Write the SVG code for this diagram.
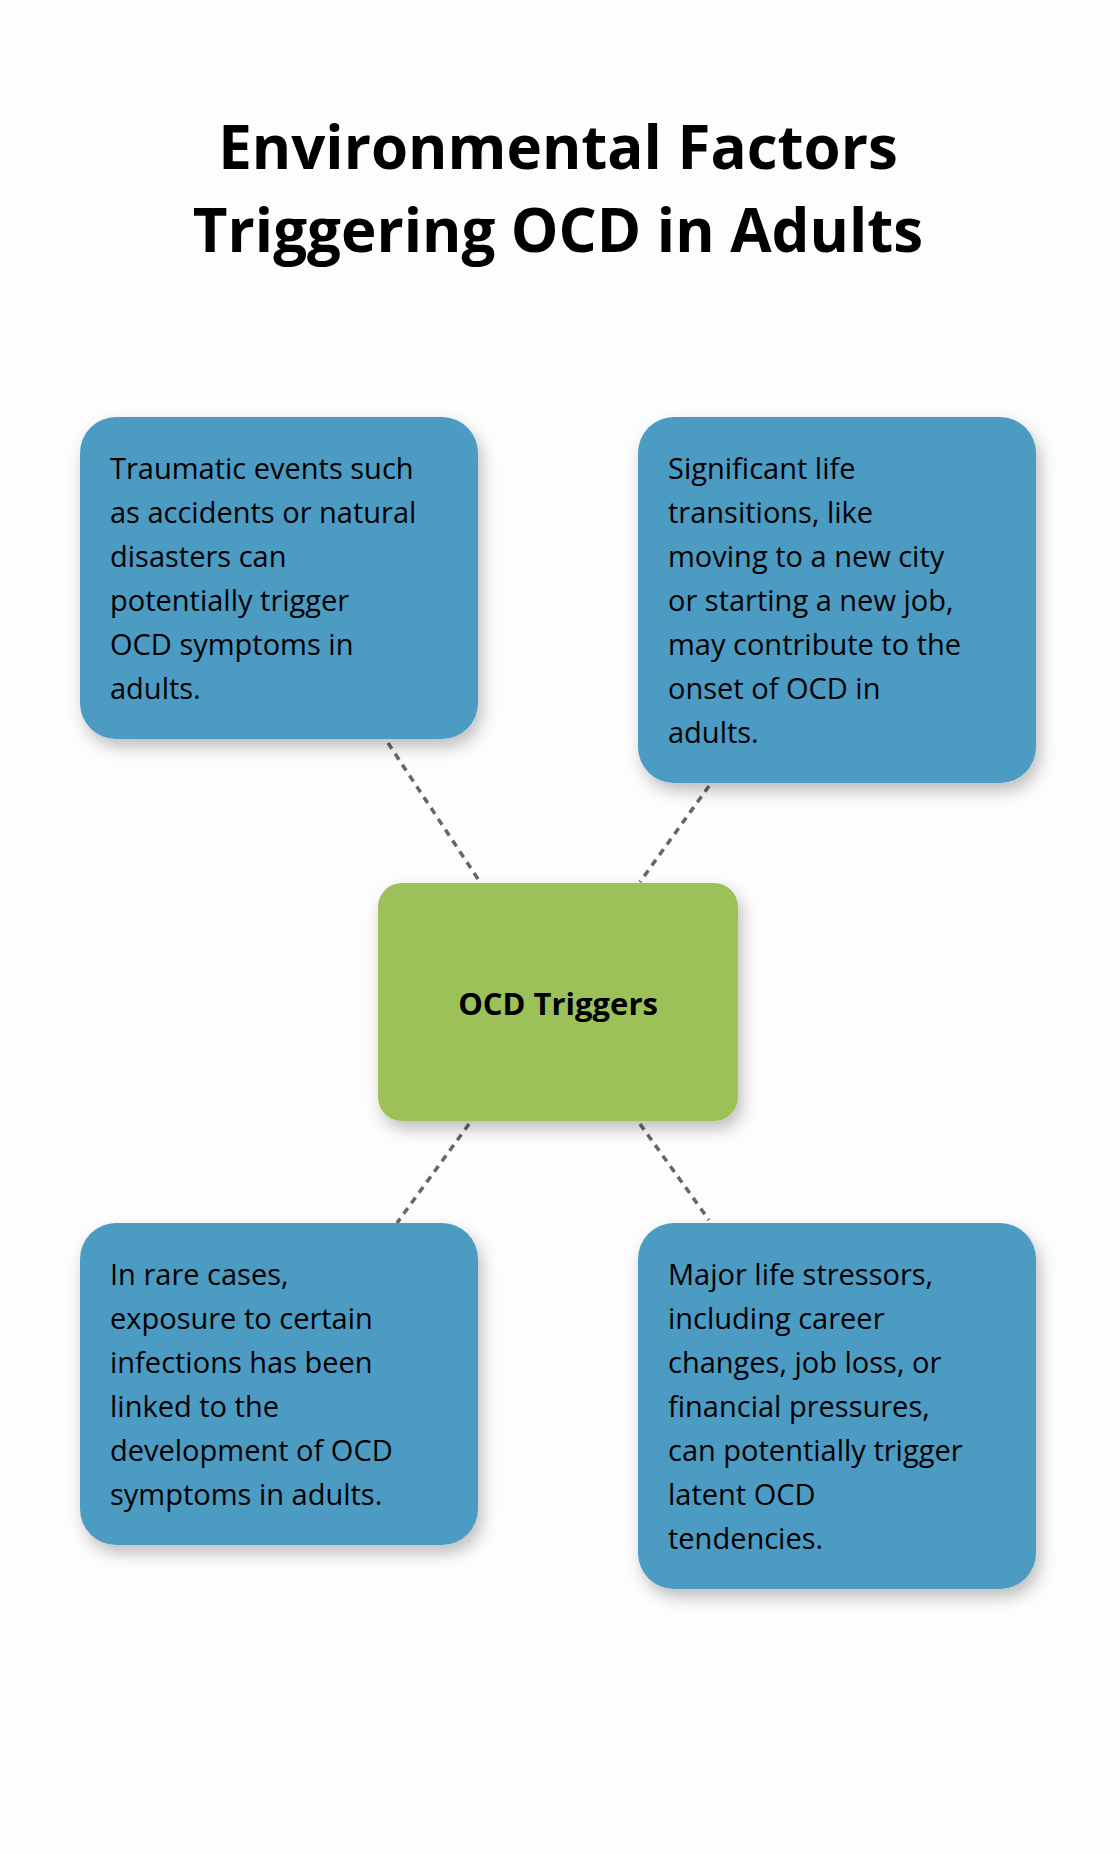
<svg xmlns="http://www.w3.org/2000/svg" width="1120" height="1854" viewBox="0 0 1120 1854">
<style>
.t{font-family:"Open Sans","Liberation Sans",sans-serif;font-weight:700;font-size:60px;fill:#000;text-anchor:middle}
.b{fill:#4B9BC3;filter:url(#sh)}
.g{fill:#9BC158;filter:url(#sh)}
.x{font-family:"Open Sans","Liberation Sans",sans-serif;font-size:29px;fill:#000}
.c{stroke:#666;stroke-width:3.5;stroke-dasharray:7 6;fill:none}
</style>
<defs><filter id="sh" x="-20%" y="-20%" width="140%" height="140%"><feDropShadow dx="4" dy="8" stdDeviation="8" flood-color="#000" flood-opacity="0.25"/></filter></defs>
<rect width="1120" height="1854" fill="#fdfdfd"/>
<text class="t" x="558" y="169">Environmental Factors</text>
<text class="t" x="558" y="252">Triggering OCD in Adults</text>
<g id="connectors">
<line class="c" x1="388" y1="743" x2="480" y2="882"/>
<line class="c" x1="709" y1="786" x2="640" y2="882"/>
<line class="c" x1="469" y1="1124" x2="397" y2="1223"/>
<line class="c" x1="640" y1="1124" x2="709" y2="1220"/>
</g>
<g id="n1"><rect class="b" x="80" y="417" width="398" height="322" rx="36"/>
<text class="x" x="110"><tspan x="110" y="479">Traumatic events such</tspan><tspan x="110" y="523">as accidents or natural</tspan><tspan x="110" y="567">disasters can</tspan><tspan x="110" y="611">potentially trigger</tspan><tspan x="110" y="655">OCD symptoms in</tspan><tspan x="110" y="699">adults.</tspan></text></g>
<g id="n2"><rect class="b" x="638" y="417" width="398" height="366" rx="36"/>
<text class="x"><tspan x="668" y="479">Significant life</tspan><tspan x="668" y="523">transitions, like</tspan><tspan x="668" y="567">moving to a new city</tspan><tspan x="668" y="611">or starting a new job,</tspan><tspan x="668" y="655">may contribute to the</tspan><tspan x="668" y="699">onset of OCD in</tspan><tspan x="668" y="743">adults.</tspan></text></g>
<g id="center"><rect class="g" x="378" y="883" width="360" height="238" rx="24"/>
<text x="558" y="1015" text-anchor="middle" style="font-family:'Open Sans','Liberation Sans',sans-serif;font-weight:700;font-size:31px">OCD Triggers</text></g>
<g id="n3"><rect class="b" x="80" y="1223" width="398" height="322" rx="36"/>
<text class="x"><tspan x="110" y="1285">In rare cases,</tspan><tspan x="110" y="1329">exposure to certain</tspan><tspan x="110" y="1373">infections has been</tspan><tspan x="110" y="1417">linked to the</tspan><tspan x="110" y="1461">development of OCD</tspan><tspan x="110" y="1505">symptoms in adults.</tspan></text></g>
<g id="n4"><rect class="b" x="638" y="1223" width="398" height="366" rx="36"/>
<text class="x"><tspan x="668" y="1285">Major life stressors,</tspan><tspan x="668" y="1329">including career</tspan><tspan x="668" y="1373">changes, job loss, or</tspan><tspan x="668" y="1417">financial pressures,</tspan><tspan x="668" y="1461">can potentially trigger</tspan><tspan x="668" y="1505">latent OCD</tspan><tspan x="668" y="1549">tendencies.</tspan></text></g>
</svg>
